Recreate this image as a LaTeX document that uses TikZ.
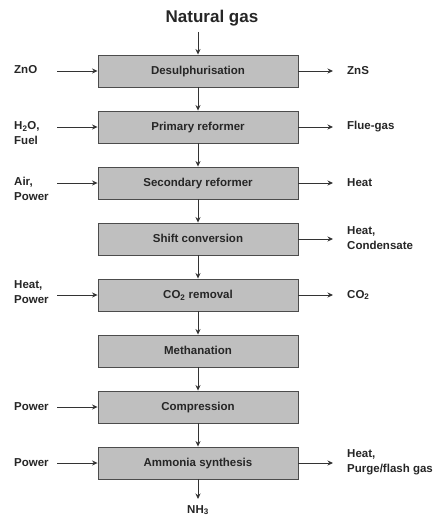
\documentclass[tikz,border=0pt]{standalone}
\usepackage{fontspec}
\setmainfont{Liberation Sans}
\usetikzlibrary{arrows.meta}
\begin{document}
\begin{tikzpicture}[x=1pt,y=-1pt,
  font=\fontsize{11.5}{15}\selectfont\bfseries,
  procbox/.style={draw=black!70,line width=0.9pt,fill=black!25,minimum width=200pt,minimum height=32pt,inner sep=0pt,text height=8pt,text depth=1pt,text=black!85},
  lbl/.style={anchor=west,align=left,inner sep=0pt,text=black!85},
  flow/.style={draw=black!80,line width=0.8pt,-{Stealth[length=5.5pt,width=5pt]}}]
\useasboundingbox[fill=white] (0,0) rectangle (435,519);
\node[font=\fontsize{17}{20}\selectfont\bfseries,text=black!85] (title) at (212,18) {Natural gas};
\coordinate (tin) at (198,32);
\node[procbox] (b1) at (198,71) {Desulphurisation};
\node[procbox] (b2) at (198,127) {Primary reformer};
\node[procbox] (b3) at (198,183) {Secondary reformer};
\node[procbox] (b4) at (198,239) {Shift conversion};
\node[procbox] (b5) at (198,295) {CO\textsubscript{2} removal};
\node[procbox] (b6) at (198,351) {Methanation};
\node[procbox] (b7) at (198,407) {Compression};
\node[procbox] (b8) at (198,463) {Ammonia synthesis};
\node[inner sep=0pt,text=black!85] (nh3) at (198,510) {NH\textsubscript{3}};
\coordinate (nh3c) at (198,499);
% left labels
\node[lbl] (l1) at (14,70) {ZnO};
\node[lbl] (l2) at (14,133) {H\textsubscript{2}O,\\Fuel};
\node[lbl] (l3) at (14,189) {Air,\\Power};
\node[lbl] (l5) at (14,292) {Heat,\\Power};
\node[lbl] (l7) at (14,407) {Power};
\node[lbl] (l8) at (14,463) {Power};
% right labels
\node[lbl] (r1) at (347,71) {ZnS};
\node[lbl] (r2) at (347,127) {Flue-gas};
\node[lbl] (r3) at (347,183) {Heat};
\node[lbl] (r4) at (347,238) {Heat,\\Condensate};
\node[lbl] (r5) at (347,295) {CO\textsubscript{2}};
\node[lbl] (r8) at (347,462) {Heat,\\Purge/flash gas};
% arrow endpoints
\foreach \i/\y in {1/71,2/127,3/183,5/295,7/407,8/463} {\coordinate (la\i) at (57,\y);}
\foreach \i/\y in {1/71,2/127,3/183,4/239,5/295,8/463} {\coordinate (ra\i) at (333,\y);}
% connectors
\draw[flow] (tin) -- (b1.north);
\draw[flow] (b1) -- (b2);
\draw[flow] (b2) -- (b3);
\draw[flow] (b3) -- (b4);
\draw[flow] (b4) -- (b5);
\draw[flow] (b5) -- (b6);
\draw[flow] (b6) -- (b7);
\draw[flow] (b7) -- (b8);
\draw[flow] (b8.south) -- (nh3c);
\foreach \i in {1,2,3,5,7,8} {\draw[flow] (la\i) -- (b\i.west);}
\foreach \i in {1,2,3,4,5,8} {\draw[flow] (b\i.east) -- (ra\i);}
\end{tikzpicture}
\end{document}
